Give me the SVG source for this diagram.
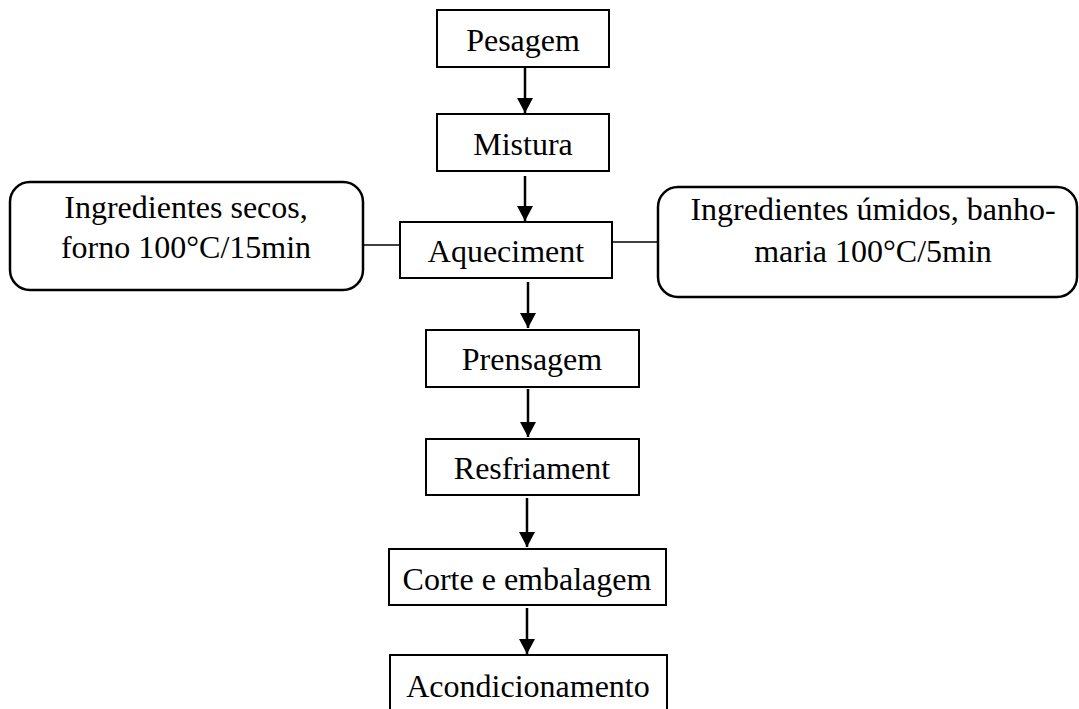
<svg xmlns="http://www.w3.org/2000/svg" width="1079" height="709" viewBox="0 0 1079 709">
<style>
.box{fill:#fff;stroke:#000;stroke-width:2}
.rbox{fill:#fff;stroke:#000;stroke-width:2.5}
.t{font-family:"Liberation Serif","Times New Roman",serif;font-size:32px;fill:#000;text-anchor:middle}
.arr{stroke:#000;stroke-width:2.5;fill:none;marker-end:url(#ah)}
.ln{stroke:#000;stroke-width:1.3;fill:none}
</style>
<defs>
<marker id="ah" markerUnits="userSpaceOnUse" markerWidth="16" markerHeight="16" refX="15" refY="8" orient="auto">
<path d="M0,0 L15,8 L0,16 Z" fill="#000"/>
</marker>
</defs>
<rect width="1079" height="709" fill="#fff"/>
<g id="connectors">
<line class="arr" x1="525" y1="67" x2="525" y2="113"/>
<line class="arr" x1="525" y1="176" x2="525" y2="221"/>
<line class="arr" x1="528" y1="282" x2="528" y2="328"/>
<line class="arr" x1="528" y1="389" x2="528" y2="437"/>
<line class="arr" x1="527" y1="498" x2="527" y2="547"/>
<line class="arr" x1="527" y1="608" x2="527" y2="654"/>
<line class="ln" x1="363" y1="245" x2="400" y2="245"/>
<line class="ln" x1="612" y1="242" x2="658" y2="242"/>
</g>
<g id="pesagem">
<rect class="box" x="437" y="10" width="172" height="57"/>
<text class="t" x="523" y="51">Pesagem</text>
</g>
<g id="mistura">
<rect class="box" x="437" y="114" width="172" height="57"/>
<text class="t" x="523" y="155">Mistura</text>
</g>
<g id="aquecimento">
<rect class="box" x="400" y="222" width="212" height="56"/>
<text class="t" x="506" y="262">Aqueciment</text>
</g>
<g id="secos">
<rect class="rbox" x="10" y="182" width="353" height="108" rx="20"/>
<text class="t" x="186" y="218">Ingredientes secos,</text>
<text class="t" x="186" y="258">forno 100°C/15min</text>
</g>
<g id="umidos">
<rect class="rbox" x="658" y="187" width="419" height="110" rx="20"/>
<text class="t" x="873" y="220">Ingredientes úmidos, banho-</text>
<text class="t" x="873" y="262">maria 100°C/5min</text>
</g>
<g id="prensagem">
<rect class="box" x="426" y="330" width="213" height="57"/>
<text class="t" x="532" y="370">Prensagem</text>
</g>
<g id="resfriamento">
<rect class="box" x="426" y="439" width="213" height="56"/>
<text class="t" x="532" y="479">Resfriament</text>
</g>
<g id="corte">
<rect class="box" x="389" y="549" width="277" height="56"/>
<text class="t" x="527" y="590">Corte e embalagem</text>
</g>
<g id="acondicionamento">
<rect class="box" x="390" y="655" width="277" height="60"/>
<text class="t" x="528" y="697">Acondicionamento</text>
</g>
</svg>
